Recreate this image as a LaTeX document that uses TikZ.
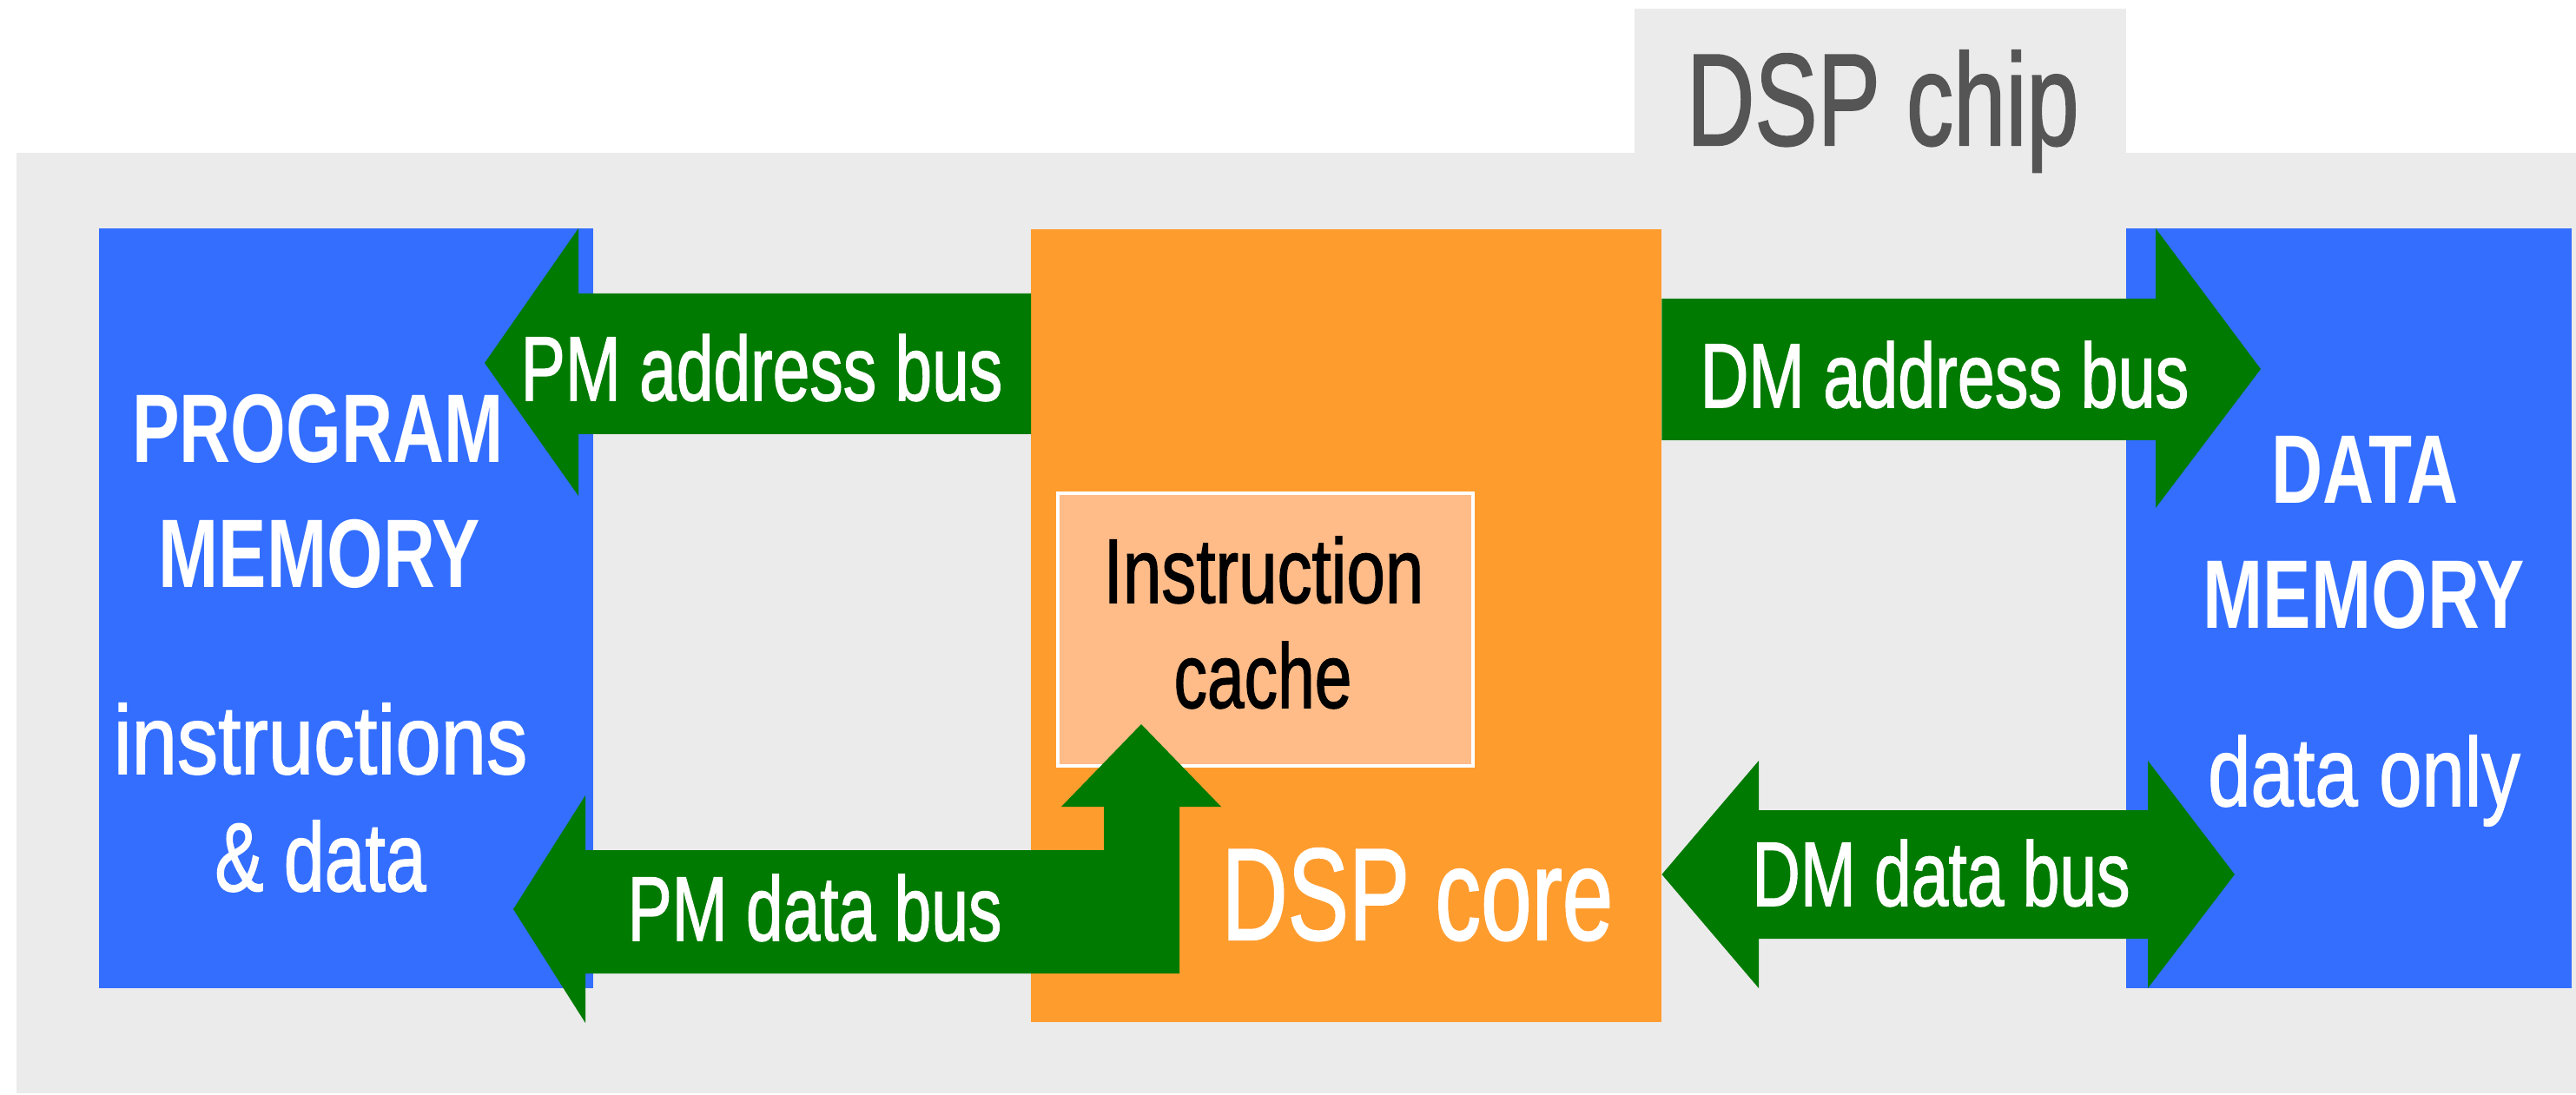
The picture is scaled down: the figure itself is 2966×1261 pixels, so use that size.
\documentclass[tikz,border=0pt]{standalone}
\usepackage{fontspec}
\setmainfont{Liberation Sans}
\newfontfamily\medfont{Liberation Sans}[FakeBold=1.5]
\usepackage{graphicx}

\definecolor{panelgray}{RGB}{235,235,235}
\definecolor{memblue}{RGB}{51,110,255}
\definecolor{busgreen}{RGB}{0,122,0}
\definecolor{coreorange}{RGB}{255,156,46}
\definecolor{cachefill}{RGB}{255,187,136}
\definecolor{chipgray}{RGB}{85,85,85}

% horizontally condensed text
\newcommand{\cond}[2]{\scalebox{#1}[1]{#2}}

\tikzset{
  block/.style={inner sep=0pt, outer sep=0pt, anchor=north west},
  bus/.style={fill=busgreen, draw=none},
  lbl/.style={inner sep=0pt, outer sep=0pt, anchor=base, text=white},
  memfont/.style={font=\medfont\fontsize{31.9pt}{38pt}\selectfont},
  membold/.style={font=\fontsize{31.9pt}{38pt}\selectfont\bfseries},
  busfont/.style={font=\medfont\fontsize{29.9pt}{36pt}\selectfont},
  bigfont/.style={font=\medfont\fontsize{42.8pt}{50pt}\selectfont},
}

\begin{document}
\begin{tikzpicture}[x=0.01cm, y=-0.01cm]
  \useasboundingbox[fill=white] (0,0) rectangle (2966,1261);

  % chip outline with its title tab
  \node[block, fill=panelgray, minimum width=29.47cm, minimum height=10.82cm] (panel) at (19,176) {};
  \node[block, fill=panelgray, minimum width=5.66cm, minimum height=1.68cm] (tab) at (1882,10) {};
  \node[lbl, bigfont, text=chipgray] (chiplbl) at (2168,167) {\cond{0.72}{DSP chip}};

  % memories and core
  \node[block, fill=memblue, minimum width=5.69cm, minimum height=8.74cm] (pm) at (114,263) {};
  \node[block, fill=memblue, minimum width=5.13cm, minimum height=8.74cm] (dm) at (2448,263) {};
  \node[block, fill=coreorange, minimum width=7.26cm, minimum height=9.12cm] (core) at (1187,264) {};
  \node[block, fill=cachefill, draw=white, line width=1.2pt, minimum width=4.78cm, minimum height=3.14cm] (cache) at (1218,568) {};

  % PM address bus: core -> program memory
  \draw[bus] (core.west |- 0,338) -- (666,338) -- (666,263) -- (558,418)
    -- (666,571) -- (666,500) -- (core.west |- 0,500) -- cycle;

  % DM address bus: core -> data memory
  \draw[bus] (core.east |- 0,344) -- (2482,344) -- (2482,263) -- (2603,425)
    -- (2482,585) -- (2482,507) -- (core.east |- 0,507) -- cycle;

  % PM data bus with its branch up into the instruction cache
  \draw[bus] (1358,1121) -- (674,1121) -- (674,1178) -- (591,1047) -- (674,916)
    -- (674,979) -- (1271,979) -- (1271,929) -- (1222,929)
    -- (1314,834) -- (1406,929) -- (1358,929) -- cycle;

  % DM data bus, both directions
  \draw[bus] (core.east |- 0,1007) -- (2025,876) -- (2025,933) -- (2473,933)
    -- (2473,876) -- (2573,1007) -- (2473,1138) -- (2473,1081)
    -- (2025,1081) -- (2025,1138) -- cycle;

  % memory labels
  \node[lbl, membold] (pm1) at (366,533) {\cond{0.73}{PROGRAM}};
  \node[lbl, membold] (pm2) at (368,676) {\cond{0.74}{MEMORY}};
  \node[lbl, memfont] (pm3) at (369,891) {\cond{0.84}{instructions}};
  \node[lbl, memfont] (pm4) at (369,1026) {\cond{0.75}{\& data}};

  \node[lbl, membold] (dm1) at (2723,580) {\cond{0.73}{DATA}};
  \node[lbl, membold] (dm2) at (2722,723) {\cond{0.74}{MEMORY}};
  \node[lbl, memfont] (dm3) at (2722,928) {\cond{0.79}{data only}};

  % core labels
  \node[lbl, busfont, text=black] (ic1) at (1455,694) {\cond{0.76}{Instruction}};
  \node[lbl, busfont, text=black] (ic2) at (1454,815) {\cond{0.73}{cache}};
  \node[lbl, bigfont] (corelbl) at (1632,1082) {\cond{0.70}{DSP core}};

  % bus labels
  \node[lbl, busfont] (pmab) at (877,461) {\cond{0.73}{PM address bus}};
  \node[lbl, busfont] (dmab) at (2239,469) {\cond{0.735}{DM address bus}};
  \node[lbl, busfont] (pmdb) at (938,1083) {\cond{0.73}{PM data bus}};
  \node[lbl, busfont] (dmdb) at (2235,1043) {\cond{0.73}{DM data bus}};
\end{tikzpicture}
\end{document}
